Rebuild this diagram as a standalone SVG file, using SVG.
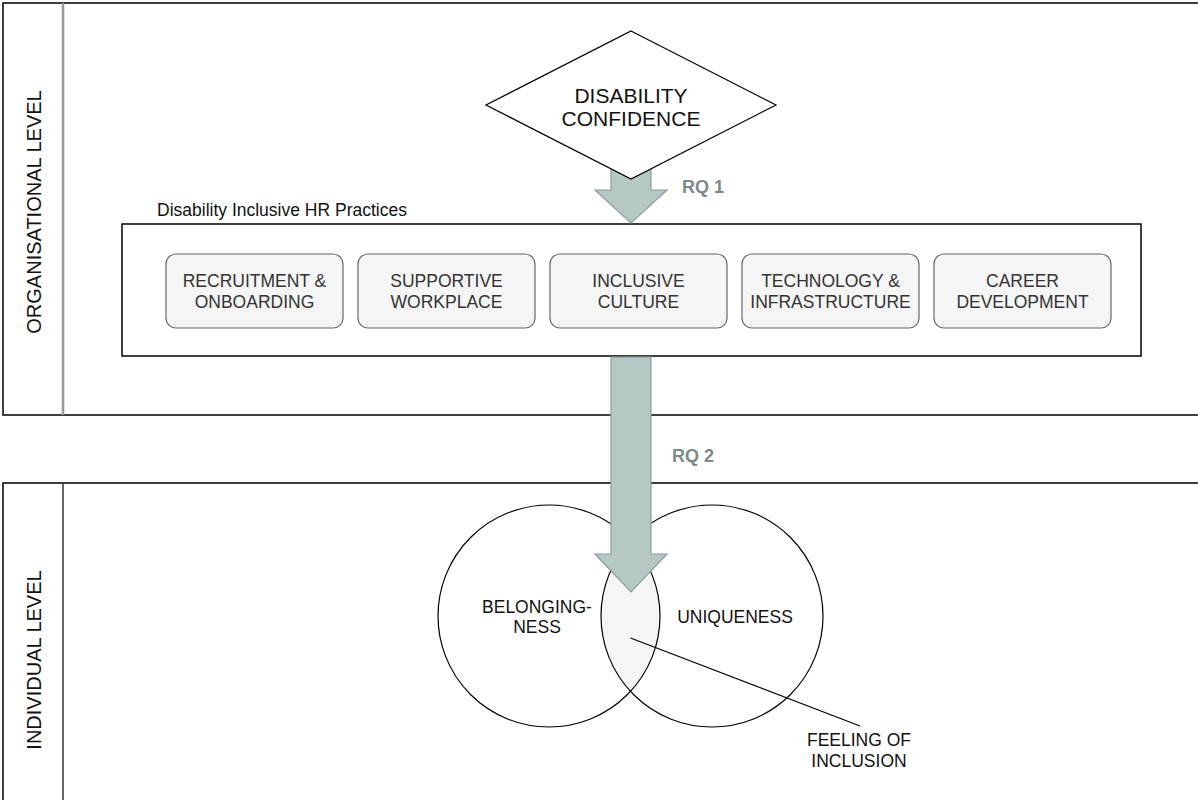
<svg xmlns="http://www.w3.org/2000/svg" width="1198" height="800" viewBox="0 0 1198 800">
<style>
text{font-family:"Liberation Sans",Arial,sans-serif}
.lane{fill:#fff;stroke:#000;stroke-width:1.5}
.box{fill:#f5f5f5;stroke:#666;stroke-width:1.2}
.bt{font-size:17.5px;fill:#333;text-anchor:middle}
.ct{font-size:17.5px;fill:#111;text-anchor:middle}
.rq{font-size:18px;font-weight:bold;fill:#7a8a88}
.arrow{fill:#b5c8c5;stroke:#8c9e9b;stroke-width:1.2}
.lbl{font-size:20px;fill:#111;text-anchor:middle}
</style>
<g id="lane-organisational">
<rect class="lane" x="3" y="3" width="1210" height="412"/>
<line x1="63" y1="3" x2="63" y2="415" stroke="#999" stroke-width="2.5"/>
<text class="lbl" transform="translate(40.5,212) rotate(-90)">ORGANISATIONAL LEVEL</text>
</g>
<g id="lane-individual">
<rect class="lane" x="3" y="483" width="1210" height="360"/>
<line x1="63" y1="483" x2="63" y2="843" stroke="#333" stroke-width="1.5"/>
<text class="lbl" transform="translate(40.5,660) rotate(-90)">INDIVIDUAL LEVEL</text>
</g>
<g id="hr-practices">
<rect x="122" y="224" width="1019" height="132" fill="#fff" stroke="#000" stroke-width="1.5"/>
<text x="157" y="216" style="font-size:17.5px;fill:#111">Disability Inclusive HR Practices</text>
</g>
<g id="recruitment">
<rect class="box" x="166" y="254" width="177" height="74" rx="10"/>
<text class="bt" x="254.5" y="287">RECRUITMENT &amp;</text>
<text class="bt" x="254.5" y="308">ONBOARDING</text>
</g>
<g id="supportive">
<rect class="box" x="358" y="254" width="177" height="74" rx="10"/>
<text class="bt" x="446.5" y="287">SUPPORTIVE</text>
<text class="bt" x="446.5" y="308">WORKPLACE</text>
</g>
<g id="inclusive-culture">
<rect class="box" x="550" y="254" width="177" height="74" rx="10"/>
<text class="bt" x="638.5" y="287">INCLUSIVE</text>
<text class="bt" x="638.5" y="308">CULTURE</text>
</g>
<g id="technology">
<rect class="box" x="742" y="254" width="177" height="74" rx="10"/>
<text class="bt" x="830.5" y="287">TECHNOLOGY &amp;</text>
<text class="bt" x="830.5" y="308">INFRASTRUCTURE</text>
</g>
<g id="career">
<rect class="box" x="934" y="254" width="177" height="74" rx="10"/>
<text class="bt" x="1022.5" y="287">CAREER</text>
<text class="bt" x="1022.5" y="308">DEVELOPMENT</text>
</g>
<g id="venn">
<path d="M630.5 540.64 A111 111 0 0 1 630.5 691.36 A111 111 0 0 1 630.5 540.64 Z" fill="#f5f5f5"/>
<circle id="belongingness" cx="549" cy="616" r="111" fill="none" stroke="#000" stroke-width="1.2"/>
<circle id="uniqueness" cx="712" cy="616" r="111" fill="none" stroke="#000" stroke-width="1.2"/>
<text class="ct" x="537" y="613">BELONGING-</text>
<text class="ct" x="537" y="633">NESS</text>
<text class="ct" x="735" y="623">UNIQUENESS</text>
</g>
<g id="connectors">
<polygon class="arrow" points="611,140 651,140 651,190 667,190 631,223 595,190 611,190"/>
<polygon class="arrow" points="611,357 651,357 651,554 667,554 631,592 595,554 611,554"/>
<line x1="630.5" y1="638" x2="860" y2="726" stroke="#000" stroke-width="1.2"/>
<text class="rq" x="682" y="193">RQ 1</text>
<text class="rq" x="672" y="462">RQ 2</text>
</g>
<g id="disability-confidence">
<polygon points="631,31 776,105 631,179 486,105" fill="#fff" stroke="#000" stroke-width="1.2"/>
<text x="631" y="103" style="font-size:21px;fill:#111;text-anchor:middle">DISABILITY</text>
<text x="631" y="126" style="font-size:21px;fill:#111;text-anchor:middle">CONFIDENCE</text>
</g>
<g id="feeling-of-inclusion">
<text class="ct" x="859" y="746">FEELING OF</text>
<text class="ct" x="859" y="767">INCLUSION</text>
</g>
</svg>
